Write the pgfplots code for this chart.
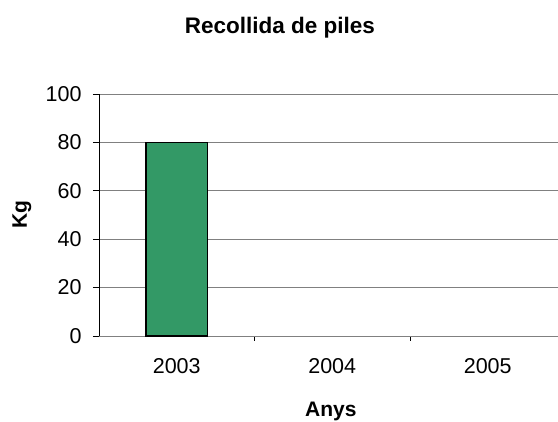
\documentclass[border=0pt]{standalone}
\usepackage{fontspec}
\setmainfont{Liberation Sans}
\usepackage{pgfplots}
\pgfplotsset{compat=1.18}
\definecolor{bargreen}{HTML}{339966}
\definecolor{gridgray}{HTML}{808080}
\begin{document}
\begin{tikzpicture}[x=1pt,y=1pt]
\path[use as bounding box] (0,0) rectangle (558,422);
\begin{axis}[
  at={(99pt,86pt)}, anchor=south west,
  scale only axis,
  width=459pt, height=242pt,
  xmin=-0.5, xmax=2.452,
  ymin=0, ymax=100,
  ytick={0,20,40,60,80,100},
  xtick={0,1,2},
  xticklabels={2003,2004,2005},
  minor xtick={0.5,1.5},
  xtick style={draw=none},
  minor x tick style={draw=black, line width=0.6pt},
  y tick style={draw=black, line width=0.6pt},
  tick align=outside,
  major tick length=6pt,
  minor tick length=5pt,
  axis x line*=bottom,
  axis y line*=left,
  x axis line style={-, draw=gridgray, line width=0.9pt},
  y axis line style={-, draw=black, line width=0.9pt},
  ymajorgrids,
  grid style={draw=gridgray, line width=0.9pt},
  /pgf/number format/assume math mode=true,
  tick label style={font=\fontsize{21.5}{24}\selectfont},
  yticklabel style={xshift=-8pt},
  xticklabel style={anchor=base, yshift=-32pt},
  title={Recollida de piles},
  title style={font=\bfseries\fontsize{22.5}{26}\selectfont, at={(rel axis cs:0.394,1.2616)}, anchor=base, yshift=-9pt},
  xlabel={Anys},
  xlabel style={font=\bfseries\fontsize{21}{24}\selectfont, at={(rel axis cs:0.505,-0.322)}, anchor=base, yshift=-2.5pt},
  ylabel={Kg},
  ylabel style={font=\bfseries\fontsize{21}{24}\selectfont, at={(rel axis cs:-0.168,0.5)}, anchor=center},
  clip=false,
]
\addplot[ybar, bar width=61.6pt, fill=bargreen, draw=black, line width=1.2pt]
  coordinates {(0,80)};
\end{axis}
\end{tikzpicture}
\end{document}
